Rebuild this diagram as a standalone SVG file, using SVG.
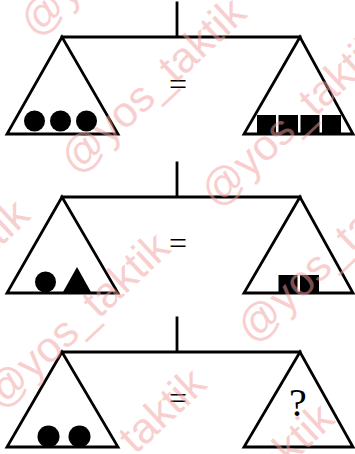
<svg xmlns="http://www.w3.org/2000/svg" width="355" height="454" viewBox="0 0 355 454">
<style>
.ln{stroke:#000;stroke-width:2.8;fill:none;stroke-linecap:square}
.pan{stroke:#000;stroke-width:2.8;fill:#fff;stroke-linejoin:miter}
.blk{fill:#000}
.eq{font-family:"Liberation Serif",serif;font-size:32px;text-anchor:middle;fill:#000}
.q{font-family:"Liberation Serif",serif;font-size:40px;text-anchor:middle;fill:#000}
.wm{font-family:"Liberation Sans",Arial,sans-serif;font-size:43px;fill:#f2a0a0;opacity:0.5}
</style>
<rect width="355" height="454" fill="#fff"/>
<g id="connectors">
  <path class="ln" d="M177,3V37M62,37H300"/>
  <path class="ln" d="M177,163V197M62,197H300"/>
  <path class="ln" d="M177,318V352M62,352H300"/>
</g>
<g id="scale1-left">
  <polygon class="pan" points="62,37 7,134 118,134"/>
  <circle class="blk" cx="34.5" cy="121" r="10.5"/>
  <circle class="blk" cx="60.5" cy="121" r="10.5"/>
  <circle class="blk" cx="86.5" cy="121" r="10.5"/>
</g>
<g id="scale1-eq"><text class="eq" x="178" y="95">=</text></g>
<g id="scale1-right">
  <polygon class="pan" points="300,37 244,134 353,134"/>
  <rect class="blk" x="257" y="115" width="19" height="18"/>
  <rect class="blk" x="278.5" y="115" width="19.5" height="18"/>
  <rect class="blk" x="300.5" y="115" width="19" height="18"/>
  <rect class="blk" x="322" y="115" width="19" height="18"/>
</g>
<g id="scale2-left">
  <polygon class="pan" points="62,197 7,293 118,293"/>
  <circle class="blk" cx="45.5" cy="282" r="10.5"/>
  <polygon class="blk" points="77,267 91,292 63,292"/>
</g>
<g id="scale2-eq"><text class="eq" x="178" y="254">=</text></g>
<g id="scale2-right">
  <polygon class="pan" points="300,197 244,293 353,293"/>
  <rect class="blk" x="278.5" y="275" width="19" height="18"/>
  <rect class="blk" x="300" y="275" width="19" height="18"/>
</g>
<g id="scale3-left">
  <polygon class="pan" points="62,352 7,447 118,447"/>
  <circle class="blk" cx="48.5" cy="436.5" r="11"/>
  <circle class="blk" cx="79.5" cy="436.5" r="11"/>
</g>
<g id="scale3-eq"><text class="eq" x="178" y="409">=</text></g>
<g id="scale3-right">
  <polygon class="pan" points="300,352 244,447 353,447"/>
  <text class="q" x="298" y="416">?</text>
</g>
<g id="watermark" transform="rotate(-43)">
  <text class="wm" x="0" y="53">@yos_taktik</text>
  <text class="wm" x="-64" y="181">@yos_taktik</text>
  <text class="wm" x="-360" y="181">@yos_taktik</text>
  <text class="wm" x="16" y="301">@yos_taktik</text>
  <text class="wm" x="-280" y="301">@yos_taktik</text>
  <text class="wm" x="-50" y="425">@yos_taktik</text>
  <text class="wm" x="-346" y="425">@yos_taktik</text>
  <text class="wm" x="20" y="538">@yos_taktik</text>
  <text class="wm" x="-276" y="538">@yos_taktik</text>
</g>
</svg>
